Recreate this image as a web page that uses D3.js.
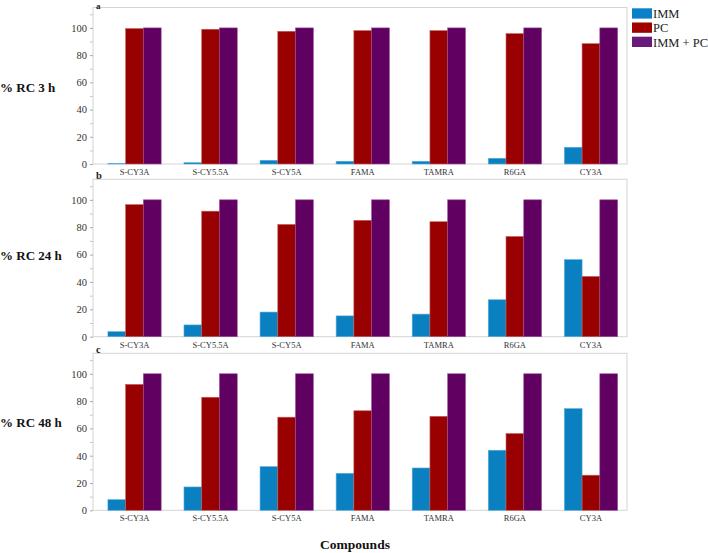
<!DOCTYPE html>
<html><head><meta charset="utf-8">
<script src="https://cdn.jsdelivr.net/npm/d3@7/dist/d3.min.js"></script>
<style>body{margin:0;background:#fff}svg{display:block}
svg text{font-family:"Liberation Serif","DejaVu Serif",serif;}</style>
</head><body><svg id="c" width="708" height="553"></svg>
<script>
const categories = ["S-CY3A","S-CY5.5A","S-CY5A","FAMA","TAMRA","R6GA","CY3A"];
const seriesNames = ["IMM","PC","IMM + PC"];
const panelLetters = ["a","b","c"];
const panelTitles = ["% RC 3 h","% RC 24 h","% RC 48 h"];
// values per panel
const imm3  = [0.5, 1, 2.7, 2, 2, 4.2, 12.3];
const pc3   = [99.5, 99, 97.5, 98, 98, 95.8, 88.4];
const both3 = [100, 100, 100, 100, 100, 100, 100];
const imm24  = [3.7, 8.6, 18, 15.2, 16.5, 27, 56.3];
const pc24   = [96.5, 91.7, 82, 85, 84, 73.2, 44];
const both24 = [100, 100, 100, 100, 100, 100, 100];
const imm48  = [7.8, 17.1, 32, 27.1, 31, 44, 74.5];
const pc48   = [92.2, 82.8, 68.2, 72.9, 68.8, 56.2, 25.7];
const both48 = [100, 100, 100, 100, 100, 100, 100];
const yTicks = [0, 20, 40, 60, 80, 100];
const yMinorTicks = [10, 30, 50, 70, 90, 110];

const panels = [[imm3, pc3, both3],[imm24, pc24, both24],[imm48, pc48, both48]];
const colors = ["#0a80c0", "#990000", "#600060"];
const strokes = ["#5aaedc", "#c05a5a", "#9a4a9a"];
const legendColors = ["#0a80c8", "#a00000", "#6a1a7a"];

const svg = d3.select("#c");
const serif = '"Liberation Serif", "DejaVu Serif", serif';
const frameL = 93, frameR = 627;
const panelGeo = [{top: 7.5, zero: 164}, {top: 179.3, zero: 336.7}, {top: 353.3, zero: 510.3}];
const titleY = [92, 260, 427];
const letterStyle = [{dy: 1.0, size: 9}, {dy: -0.6, size: 10.5}, {dy: -0.6, size: 10.5}];

const x = d3.scaleBand().domain(categories).range([96.5, 629]).paddingInner(0).paddingOuter(0);
const xs = d3.scaleBand().domain(seriesNames).range([x.bandwidth()*0.15, x.bandwidth()*0.85]);

panels.forEach((vals, p) => {
  const g = panelGeo[p];
  const y = d3.scaleLinear().domain([0, 115]).range([g.zero, g.top]);
  const pg = svg.append("g");
  pg.append("rect").attr("x", frameL).attr("y", g.top).attr("width", frameR - frameL)
    .attr("height", g.zero - g.top).attr("fill", "none").attr("stroke", "#d4d4d4").attr("stroke-width", 1);
  seriesNames.forEach((s, si) => {
    pg.selectAll(null).data(categories).enter().append("rect")
      .attr("x", d => x(d) + xs(s))
      .attr("width", xs.bandwidth())
      .attr("y", (d, i) => y(vals[si][i]))
      .attr("height", (d, i) => y(0) - y(vals[si][i]))
      .attr("fill", colors[si])
      .attr("stroke", strokes[si]).attr("stroke-width", 0.6);
  });
  const ax = d3.axisLeft(y).tickValues(yTicks).tickSize(3).tickPadding(3).tickFormat(d3.format("d"));
  const axG = pg.append("g").attr("transform", `translate(${frameL},0)`).call(ax);
  axG.attr("font-family", null);
  axG.select(".domain").remove();
  axG.selectAll(".tick line").attr("stroke", "#aaa");
  axG.selectAll("text").style("font-family", serif).style("font-size", "10.5px").attr("fill", "#333");
  const axm = d3.axisLeft(y).tickValues(yMinorTicks).tickSize(3).tickFormat("");
  const amG = pg.append("g").attr("transform", `translate(${frameL},0)`).call(axm);
  amG.select(".domain").remove();
  amG.selectAll(".tick line").attr("stroke", "#c8c8c8");
  const axb = d3.axisBottom(x).tickSize(0).tickPadding(5);
  const bG = pg.append("g").attr("transform", `translate(0,${g.zero})`).call(axb);
  bG.attr("font-family", null);
  bG.select(".domain").remove();
  bG.selectAll("text").style("font-family", serif).style("font-size", "8.5px").attr("fill", "#333");
  pg.append("text").attr("x", 96).attr("y", g.top + letterStyle[p].dy).text(panelLetters[p])
    .style("font-family", serif).style("font-weight", "bold").style("font-size", letterStyle[p].size + "px").attr("fill", "#222");
  pg.append("text").attr("x", 0).attr("y", titleY[p]).text(panelTitles[p])
    .style("font-family", serif).style("font-weight", "bold").style("font-size", "13px").attr("fill", "#111");
});

const lg = svg.append("g");
seriesNames.forEach((s, i) => {
  const yy = 8.3 + i * 14.2;
  lg.append("rect").attr("x", 632).attr("y", yy).attr("width", 20).attr("height", 10.3).attr("fill", legendColors[i]);
  lg.append("text").attr("x", 653).attr("y", yy + 9.8).text(s)
    .style("font-family", serif).style("font-size", "12.5px").attr("fill", "#222");
});

svg.append("text").attr("x", 355).attr("y", 549).attr("text-anchor", "middle").text("Compounds")
  .style("font-family", serif).style("font-weight", "bold").style("font-size", "13.5px").attr("fill", "#111");
</script>
</body></html>
